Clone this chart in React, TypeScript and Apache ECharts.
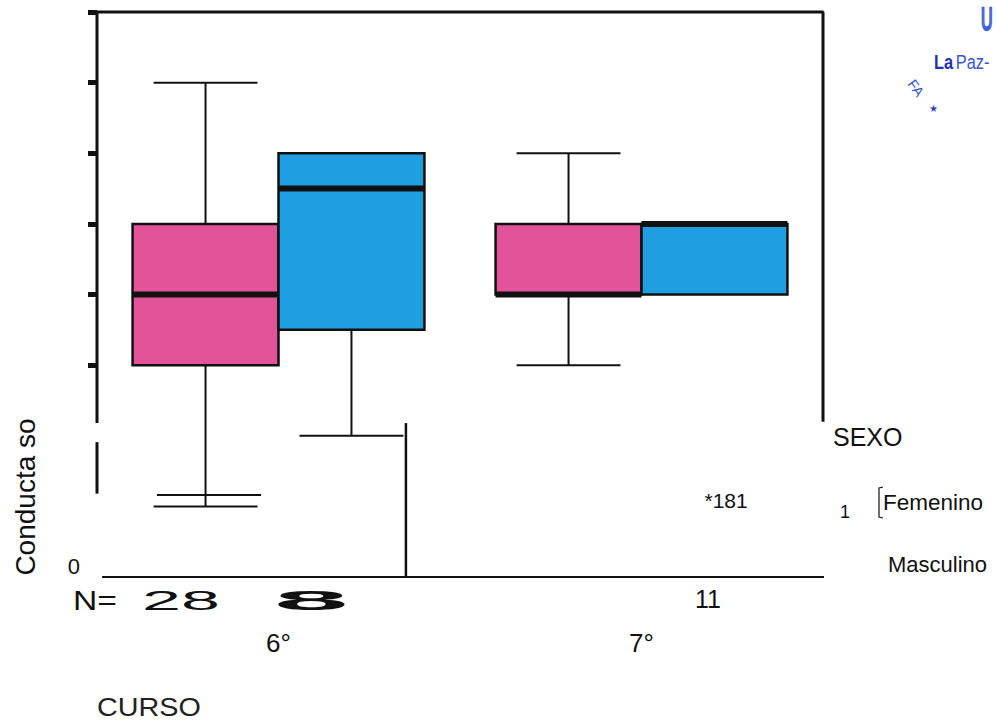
import React, { useEffect, useRef } from 'react';
import * as echarts from 'echarts';

// ---- data ----
const categories = ['6°', '7°'];
// [categoryIndex, min, Q1, median, Q3, max]
const femenino = [
  [0, 1, 3, 4, 5, 7],
  [1, 3, 4, 4, 5, 6],
];
const masculino = [
  [0, 2, 3.5, 5.5, 6, 6],
  [1, 4, 4, 5, 5, 5],
];
const yTicks = [3, 4, 5, 6, 7, 8];
const yLabels = [0];
const nPrefix = 'N=';
const nLabels = ['28', '8', '11'];
const outlierLabel = '*181';
const outlier = [[1.733, 1.09]];
// frame and scan-residue lines: x in category units (0..2), y in axis units
const frameTopRight = [[0, 8], [2, 8], [2, 2.2]];
const leftAxisUpper = [[0, 8], [0, 2.18]];
const leftAxisLower = [[0, 1.91], [0, 1.18]];
const baseline = [[0.014, 0], [2.028, 0]];
const residueVertical = [[0.851, 2.18], [0.851, 0]];
const residueCap = [[0.165, 1.16], [0.452, 1.16]];

const PINK = '#e2539a';
const BLUE = '#1f9fe2';
const INK = '#111111';
const FONT = '"Liberation Sans", Arial, sans-serif';

function makeRender(side: number, color: string) {
  return (_params: any, api: any) => {
    const cat = api.value(0);
    const mn = api.value(1);
    const q1 = api.value(2);
    const md = api.value(3);
    const q3 = api.value(4);
    const mx = api.value(5);
    const band = api.size([1, 0])[0];
    const bw = band * 0.402;
    const cx = api.coord([cat, 0])[0] + (side * bw) / 2;
    const y = (v: number) => api.coord([cat, v])[1];
    const capHalf = bw * 0.356;
    const children: any[] = [];
    if (mx > q3) {
      children.push({ type: 'line', shape: { x1: cx, y1: y(mx), x2: cx, y2: y(q3) }, style: { stroke: INK, lineWidth: 2 } });
      children.push({ type: 'line', shape: { x1: cx - capHalf, y1: y(mx), x2: cx + capHalf, y2: y(mx) }, style: { stroke: INK, lineWidth: 2 } });
    }
    if (mn < q1) {
      children.push({ type: 'line', shape: { x1: cx, y1: y(q1), x2: cx, y2: y(mn) }, style: { stroke: INK, lineWidth: 2 } });
      children.push({ type: 'line', shape: { x1: cx - capHalf, y1: y(mn), x2: cx + capHalf, y2: y(mn) }, style: { stroke: INK, lineWidth: 2 } });
    }
    children.push({
      type: 'rect',
      shape: { x: cx - bw / 2, y: y(q3), width: bw, height: y(q1) - y(q3) },
      style: { fill: color, stroke: INK, lineWidth: 2.5 },
    });
    children.push({
      type: 'line',
      shape: { x1: cx - bw / 2, y1: y(md), x2: cx + bw / 2, y2: y(md) },
      style: { stroke: INK, lineWidth: 6 },
    });
    return { type: 'group', children };
  };
}

function lineSeries(data: number[][], width = 3) {
  return {
    type: 'line',
    xAxisIndex: 1,
    yAxisIndex: 0,
    data,
    symbol: 'none',
    clip: false,
    silent: true,
    lineStyle: { color: INK, width },
    z: 5,
  };
}

function txt(text: string, x: number, y: number, fontSize: number, extra: any = {}, styleExtra: any = {}) {
  return {
    type: 'text',
    x,
    y,
    ...extra,
    style: {
      text,
      fill: INK,
      fontSize,
      fontFamily: FONT,
      align: 'left',
      verticalAlign: 'middle',
      ...styleExtra,
    },
  };
}

export default function App() {
  const ref = useRef<HTMLDivElement>(null);
  useEffect(() => {
    if (!ref.current) return;
    const chart = echarts.init(ref.current, undefined, { renderer: 'svg' });
    chart.setOption({
      animation: false,
      backgroundColor: '#ffffff',
      grid: { left: 97, right: 174, top: 12, bottom: 147 },
      xAxis: [
        {
          type: 'category',
          data: categories,
          axisLine: { show: false },
          axisTick: { show: false },
          axisLabel: { margin: 53, fontSize: 26, color: INK, fontFamily: FONT },
          splitLine: { show: false },
        },
        { type: 'value', min: 0, max: 2, show: false },
      ],
      yAxis: {
        type: 'value',
        min: 0,
        max: 8,
        interval: 1,
        splitLine: { show: false },
        axisLine: { show: false },
        axisTick: { show: true, customValues: yTicks, length: 9, lineStyle: { width: 5, color: INK } },
        axisLabel: { customValues: yLabels, margin: 17, fontSize: 22, color: INK, fontFamily: FONT, verticalAlign: 'bottom' },
      },
      series: [
        {
          type: 'custom',
          name: 'Femenino',
          xAxisIndex: 0,
          data: femenino,
          encode: { x: 0, y: [1, 2, 3, 4, 5] },
          renderItem: makeRender(-1, PINK),
          z: 3,
        },
        {
          type: 'custom',
          name: 'Masculino',
          xAxisIndex: 0,
          data: masculino,
          encode: { x: 0, y: [1, 2, 3, 4, 5] },
          renderItem: makeRender(1, BLUE),
          z: 4,
        },
        lineSeries(frameTopRight, 3),
        lineSeries(leftAxisUpper, 3),
        lineSeries(leftAxisLower, 3),
        lineSeries(baseline, 2),
        lineSeries(residueVertical, 2.5),
        lineSeries(residueCap, 2),
        {
          type: 'scatter',
          xAxisIndex: 1,
          yAxisIndex: 0,
          data: outlier,
          symbolSize: 1,
          itemStyle: { color: INK, opacity: 0 },
          label: {
            show: true,
            formatter: outlierLabel,
            position: 'inside',
            color: INK,
            opacity: 1,
            textBorderWidth: 0,
            fontSize: 21,
            fontFamily: FONT,
          },
        },
      ],
      graphic: [
        txt('Conducta so', 25, 497, 28, { rotation: Math.PI / 2 }, { align: 'center' }),
        txt(nPrefix, 73, 600, 28, { scaleX: 1.2 }),
        txt(nLabels[0], 142, 600, 28, { scaleX: 2.5 }),
        txt(nLabels[1], 274, 600, 28, { scaleX: 4.8 }, { fontWeight: 'bold' }),
        txt(nLabels[2], 695, 599, 25),
        txt('CURSO', 97, 708, 25, { scaleX: 1.15 }, { fill: '#222' }),
        txt('SEXO', 833, 437, 25),
        txt('1', 840, 512, 18),
        {
          type: 'polyline',
          shape: { points: [[883, 487], [879, 488], [879, 517], [883, 518]] },
          style: { stroke: INK, lineWidth: 1.2, fill: 'none' },
        },
        txt('Femenino', 883, 502, 22.5),
        txt('Masculino', 888, 564, 22),
        // stamp residue
        {
          type: 'text',
          x: 934,
          y: 62,
          scaleX: 0.78,
          style: {
            text: '{a|La} {b|Paz-}',
            verticalAlign: 'middle',
            align: 'left',
            rich: {
              a: { fill: '#1f2fb0', fontWeight: 'bold', fontSize: 21, fontFamily: FONT },
              b: { fill: '#3a55d0', fontSize: 21, fontFamily: FONT },
            },
          },
        },
        txt('FA', 916, 88, 14, { rotation: -0.95 }, { fill: '#3050c8', align: 'center' }),
        txt('★', 933, 108, 10, {}, { fill: '#2a40c0', align: 'center' }),
        txt('U', 981, 19, 32, { scaleX: 0.5 }, { fill: 'none', stroke: '#3f60d0', lineWidth: 2.5 }),
      ],
    });
    return () => chart.dispose();
  }, []);
  return <div ref={ref} style={{ width: 997, height: 724, position: 'absolute', left: 0, top: 0 }} />;
}
